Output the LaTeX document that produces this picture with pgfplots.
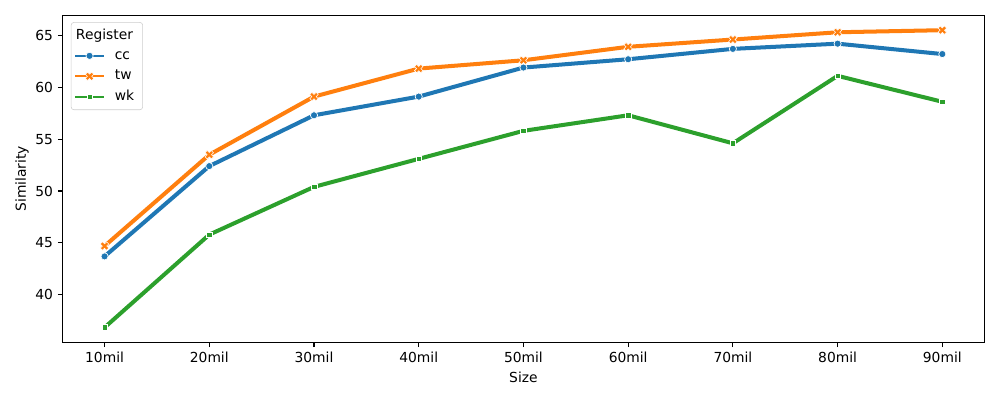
\documentclass[border=0pt]{standalone}
\usepackage{pgfplots}
\pgfplotsset{compat=1.18}
\usepackage{fontspec}
\setmainfont{DejaVu Sans}
\definecolor{tabblue}{HTML}{1F77B4}
\definecolor{taborange}{HTML}{FF7F0E}
\definecolor{tabgreen}{HTML}{2CA02C}
\pgfdeclareplotmark{Xf}{%
  \pgftransformrotate{45}%
  \pgfpathmoveto{\pgfpoint{-0.35\pgfplotmarksize}{-1\pgfplotmarksize}}%
  \pgfpathlineto{\pgfpoint{0.35\pgfplotmarksize}{-1\pgfplotmarksize}}%
  \pgfpathlineto{\pgfpoint{0.35\pgfplotmarksize}{-0.35\pgfplotmarksize}}%
  \pgfpathlineto{\pgfpoint{1\pgfplotmarksize}{-0.35\pgfplotmarksize}}%
  \pgfpathlineto{\pgfpoint{1\pgfplotmarksize}{0.35\pgfplotmarksize}}%
  \pgfpathlineto{\pgfpoint{0.35\pgfplotmarksize}{0.35\pgfplotmarksize}}%
  \pgfpathlineto{\pgfpoint{0.35\pgfplotmarksize}{1\pgfplotmarksize}}%
  \pgfpathlineto{\pgfpoint{-0.35\pgfplotmarksize}{1\pgfplotmarksize}}%
  \pgfpathlineto{\pgfpoint{-0.35\pgfplotmarksize}{0.35\pgfplotmarksize}}%
  \pgfpathlineto{\pgfpoint{-1\pgfplotmarksize}{0.35\pgfplotmarksize}}%
  \pgfpathlineto{\pgfpoint{-1\pgfplotmarksize}{-0.35\pgfplotmarksize}}%
  \pgfpathlineto{\pgfpoint{-0.35\pgfplotmarksize}{-0.35\pgfplotmarksize}}%
  \pgfpathclose
  \pgfusepathqfillstroke
}
\pgfplotstableread{
x cc tw wk
0 43.7 44.7 36.85
1 52.4 53.5 45.8
2 57.3 59.1 50.4
3 59.1 61.8 53.1
4 61.9 62.6 55.8
5 62.7 63.9 57.3
6 63.7 64.6 54.6
7 64.2 65.3 61.1
8 63.2 65.5 58.6
}\data
\begin{document}
\begin{tikzpicture}
\path[use as bounding box] (-45.3pt,-41.7pt) rectangle (677.4pt,247.4pt);
\begin{axis}[
  at={(0,0)}, anchor=south west,
  scale only axis, width=666pt, height=236.3pt,
  xmin=-0.4, xmax=8.4, ymin=35.42, ymax=66.93,
  xtick={0,...,8},
  xticklabels={10mil,20mil,30mil,40mil,50mil,60mil,70mil,80mil,90mil},
  ytick={40,45,50,55,60,65},
  tick align=outside, major tick length=3.5pt,
  tick style={black, line width=0.8pt},
  axis line style={line width=0.8pt},
  xtick pos=bottom, ytick pos=left,
  /pgf/number format/assume math mode=true,
  ticklabel style={font=\fontsize{10}{12}\selectfont},
  xlabel={Size}, ylabel={Similarity},
  xlabel style={at={(axis description cs:0.5,-0.106)}, anchor=center},
  ylabel style={at={(axis description cs:-0.0441,0.5)}, anchor=center, rotate=0},
  label style={font=\fontsize{10}{12}\selectfont},
  legend cell align=left,
  legend style={at={(0.0089,0.9792)}, anchor=north west,
    draw=black!20, rounded corners=2pt, fill=white,
    font=\fontsize{10}{12}\selectfont, inner xsep=2pt, inner ysep=3pt,
    row sep=2.1pt, column sep=5pt,
    nodes={text height=7.5pt, text depth=2.2pt, inner ysep=1.5pt}},
  legend image code/.code={\draw[mark repeat=2,mark phase=2,line width=1.6pt] plot coordinates {(0pt,0pt)(10.5pt,0pt)(21pt,0pt)};},
]
\addlegendimage{empty legend}
\addlegendentry{\hspace*{-28.1pt}Register\hspace*{3pt}}
\addplot[tabblue, line width=2.9pt, mark=*, mark size=2.6pt,
  mark options={fill=tabblue, draw=white, line width=0.5pt}] table[x=x,y=cc]{\data};
\addlegendentry{cc}
\addplot[taborange, line width=2.9pt, mark=Xf, mark size=3.2pt,
  mark options={fill=taborange, draw=white, line width=0.4pt}] table[x=x,y=tw]{\data};
\addlegendentry{tw}
\addplot[tabgreen, line width=2.9pt, mark=square*, mark size=2.0pt,
  mark options={fill=tabgreen, draw=white, line width=0.4pt}] table[x=x,y=wk]{\data};
\addlegendentry{wk}
\end{axis}
\end{tikzpicture}
\end{document}
